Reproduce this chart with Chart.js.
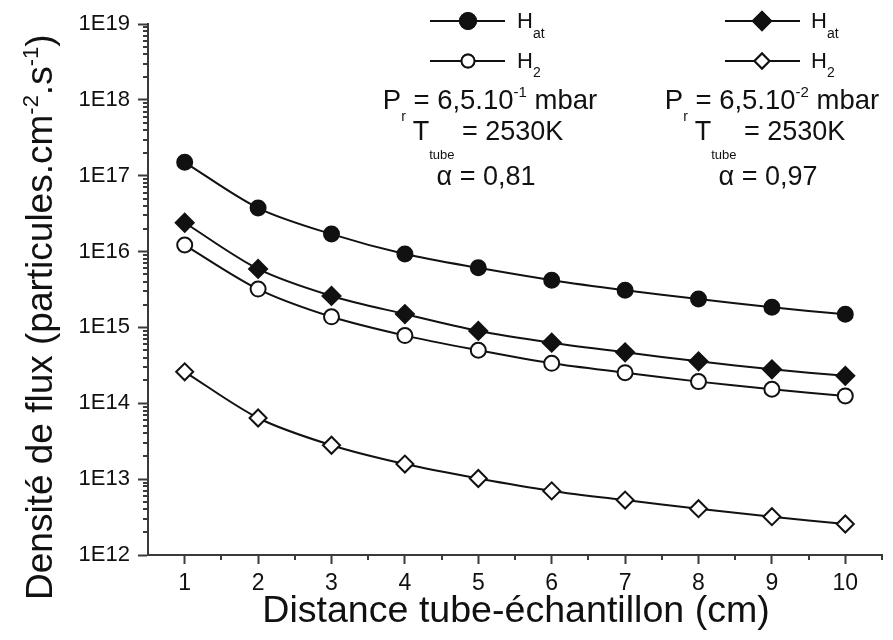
<!DOCTYPE html>
<html><head><meta charset="utf-8">
<script src="https://cdn.jsdelivr.net/npm/chart.js@4"></script>
<style>html,body{margin:0;padding:0;background:#fff}#wrap{width:893px;height:640px}</style>
</head><body><div id="wrap"><canvas id="c" width="893" height="640"></canvas></div>
<script>
// ---- data ----
const distances = [1, 2, 3, 4, 5, 6, 7, 8, 9, 10];
const hatHighP = [1.5e17, 3.75e16, 1.7e16, 9.3e15, 6.1e15, 4.2e15, 3.1e15, 2.37e15, 1.84e15, 1.49e15];
const h2HighP  = [1.22e16, 3.2e15, 1.38e15, 7.8e14, 5.0e14, 3.36e14, 2.53e14, 1.93e14, 1.53e14, 1.25e14];
const hatLowP  = [2.4e16, 5.9e15, 2.6e15, 1.5e15, 9.0e14, 6.3e14, 4.7e14, 3.57e14, 2.8e14, 2.3e14];
const h2LowP   = [2.6e14, 6.4e13, 2.8e13, 1.58e13, 1.02e13, 7.0e12, 5.3e12, 4.08e12, 3.2e12, 2.56e12];
const yTickValues = [1e12, 1e13, 1e14, 1e15, 1e16, 1e17, 1e18, 1e19];
const yTickLabels = ['1E12', '1E13', '1E14', '1E15', '1E16', '1E17', '1E18', '1E19'];
const xTickLabels = ['1', '2', '3', '4', '5', '6', '7', '8', '9', '10'];
const xMinorTicks = [1.5, 2.5, 3.5, 4.5, 5.5, 6.5, 7.5, 8.5, 9.5, 10.5];
const yMinorFactors = [2, 3, 4, 5, 6, 7, 8, 9];
const xTitle = 'Distance tube-échantillon (cm)';

const FONT = "'Liberation Sans', Arial, Helvetica, sans-serif";
const INK = '#111';
const AXIS = '#3a3a3a';

function pts(arr) { return distances.map((x, i) => ({ x: x, y: arr[i] })); }

function ds(label, arr, style, filled, r) {
  return {
    label: label, data: pts(arr),
    borderColor: INK, borderWidth: 2, tension: 0.3,
    pointStyle: style, pointRadius: r, pointHoverRadius: r,
    pointBorderWidth: 2, pointBorderColor: INK,
    pointBackgroundColor: filled ? INK : '#fff'
  };
}

function drawRich(ctx, parts, x, y, align) {
  let w = 0;
  for (const p of parts) { ctx.font = p[1] + 'px ' + FONT; w += ctx.measureText(p[0]).width; }
  let cx = align === 'center' ? x - w / 2 : (align === 'right' ? x - w : x);
  ctx.textAlign = 'left'; ctx.textBaseline = 'alphabetic';
  for (const p of parts) {
    ctx.font = p[1] + 'px ' + FONT;
    ctx.fillText(p[0], cx, y + (p[2] || 0));
    cx += ctx.measureText(p[0]).width;
  }
  return w;
}

function marker(ctx, style, x, y, r, filled) {
  ctx.save();
  ctx.lineWidth = 2; ctx.strokeStyle = INK; ctx.fillStyle = filled ? INK : '#fff';
  Chart.helpers.drawPoint(ctx, { pointStyle: style, radius: r, rotation: 0, borderWidth: 2 }, x, y);
  ctx.fill(); ctx.stroke();
  ctx.restore();
}

const decor = {
  id: 'decor',
  afterDraw(chart) {
    const ctx = chart.ctx;
    const xs = chart.scales.x, ys = chart.scales.y;
    ctx.save();
    // minor ticks
    ctx.strokeStyle = AXIS; ctx.lineWidth = 2;
    ctx.beginPath();
    for (let i = 0; i < yTickValues.length - 1; i++) {
      for (const k of yMinorFactors) {
        const py = Math.round(ys.getPixelForValue(k * yTickValues[i])) ;
        ctx.moveTo(xs.left - 5, py); ctx.lineTo(xs.left, py);
      }
    }
    for (const v of xMinorTicks) {
      const px = Math.round(xs.getPixelForValue(v));
      ctx.moveTo(px, ys.bottom); ctx.lineTo(px, ys.bottom + 5);
    }
    ctx.stroke();

    ctx.fillStyle = INK;
    // y title (rotated)
    ctx.save();
    ctx.translate(52, 600);
    ctx.rotate(-Math.PI / 2);
    drawRich(ctx, [['Densité de flux (particules.cm', 37], ['-2', 22, -14], ['.s', 37], ['-1', 22, -14], [')', 37]], 0, 0, 'left');
    ctx.restore();
    // x title
    drawRich(ctx, [[xTitle, 37.6]], (xs.left + xs.right) / 2 + 1, 622, 'center');

    // legend blocks
    const blocks = [
      { lx0: 430, lx1: 505, mx: 468, tx: 517, cx: 490, style: ['circle', 'circle'], r: [8, 6.5], pr: '-1', alpha: '0,81' },
      { lx0: 725, lx1: 800, mx: 762, tx: 811, cx: 772, style: ['rectRot', 'rectRot'], r: [9, 7.5], pr: '-2', alpha: '0,97' }
    ];
    for (const b of blocks) {
      ctx.strokeStyle = INK; ctx.lineWidth = 2;
      ctx.beginPath();
      ctx.moveTo(b.lx0, 21); ctx.lineTo(b.lx1, 21);
      ctx.moveTo(b.lx0, 61); ctx.lineTo(b.lx1, 61);
      ctx.stroke();
      marker(ctx, b.style[0], b.mx, 21, b.r[0], true);
      marker(ctx, b.style[1], b.mx, 61, b.r[1], false);
      ctx.fillStyle = INK;
      drawRich(ctx, [['H', 22], ['at', 14, 10]], b.tx, 28, 'left');
      drawRich(ctx, [['H', 22], ['2', 14, 9]], b.tx, 68, 'left');
      drawRich(ctx, [['P', 27.5], ['r', 14, 12], [' = 6,5.10', 27.5], [b.pr, 15, -12], [' mbar', 27.5]], b.cx, 109, 'center');
      drawRich(ctx, [['T', 27], ['tube', 13, 19], [' = 2530K', 27]], b.cx - 2, 140, 'center');
      drawRich(ctx, [['α = ' + b.alpha, 27]], b.cx - 4, 185, 'center');
    }
    ctx.restore();
  }
};

new Chart(document.getElementById('c'), {
  type: 'line',
  data: {
    datasets: [
      ds('H_at (6,5.10-1 mbar)', hatHighP, 'circle', true, 7.5),
      ds('H2 (6,5.10-1 mbar)', h2HighP, 'circle', false, 7.5),
      ds('H_at (6,5.10-2 mbar)', hatLowP, 'rectRot', true, 9),
      ds('H2 (6,5.10-2 mbar)', h2LowP, 'rectRot', false, 8.5)
    ]
  },
  options: {
    responsive: false, animation: false, devicePixelRatio: 1,
    layout: { padding: { left: 0, right: 9, top: 24, bottom: 0 } },
    plugins: { legend: { display: false }, tooltip: { enabled: false } },
    scales: {
      x: {
        type: 'linear', min: 0.5, max: 10.5,
        afterBuildTicks: s => { s.ticks = distances.map(v => ({ value: v })); },
        afterFit: s => { s.height = 85; },
        grid: { display: true, drawOnChartArea: false, drawTicks: true, tickLength: 9, tickWidth: 2, tickColor: AXIS },
        border: { display: true, color: AXIS, width: 2 },
        ticks: { autoSkip: false, maxRotation: 0, padding: 6, color: INK, font: { family: FONT, size: 23 },
                 callback: (v, i) => xTickLabels[i] },
        title: { display: false }
      },
      y: {
        type: 'logarithmic', min: 1e12, max: 1e19,
        afterBuildTicks: s => { s.ticks = yTickValues.map(v => ({ value: v, major: true })); },
        afterFit: s => { s.width = 148; },
        grid: { display: true, drawOnChartArea: false, drawTicks: true, tickLength: 10, tickWidth: 2, tickColor: AXIS },
        border: { display: true, color: AXIS, width: 2 },
        ticks: { autoSkip: false, padding: 8, color: INK, font: { family: FONT, size: 22 },
                 callback: (v, i) => yTickLabels[i] },
        title: { display: false }
      }
    }
  },
  plugins: [decor]
});
</script>
</body></html>
